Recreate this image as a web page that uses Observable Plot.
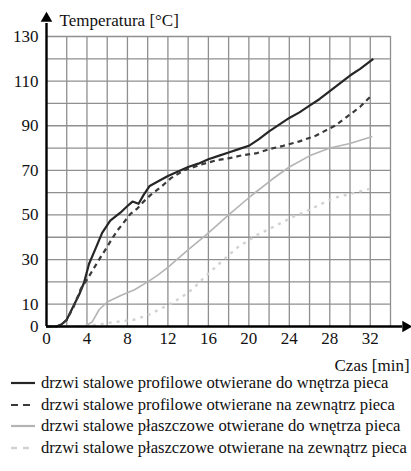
<!DOCTYPE html>
<html><head><meta charset="utf-8">
<script src="https://cdn.jsdelivr.net/npm/d3@7"></script>
<script src="https://cdn.jsdelivr.net/npm/@observablehq/plot@0.6"></script>
<style>
html,body{margin:0;padding:0;background:#fff;}
body{width:411px;height:471px;overflow:hidden;position:relative;font-family:"Liberation Serif","Tinos","Times New Roman","Times","DejaVu Serif",serif;}
#chart{position:absolute;left:0;top:0;}
#legend{position:absolute;left:0;top:372px;width:411px;overflow:hidden;}
.row{height:21.7px;display:flex;align-items:center;white-space:nowrap;font-size:16.6px;color:#111;}
.row svg{flex:none;margin-left:11px;margin-right:6px;}
</style></head><body><div id="chart"></div><div id="legend"></div>
<script>
// ---- data ----
const xTicks = [0, 4, 8, 12, 16, 20, 24, 28, 32];
const yTicks = [0, 10, 30, 50, 70, 90, 110, 130];
const xGrid = [2, 4, 6, 8, 10, 12, 14, 16, 18, 20, 22, 24, 26, 28, 30, 32, 34];
const yGrid = [10, 20, 30, 40, 50, 60, 70, 80, 90, 100, 110, 120, 130];
const xLabel = "Czas [min]";
const yLabel = "Temperatura [°C]";
const seriesNames = [
  "drzwi stalowe profilowe otwierane do wnętrza pieca",
  "drzwi stalowe profilowe otwierane na zewnątrz pieca",
  "drzwi stalowe płaszczowe otwierane do wnętrza pieca",
  "drzwi stalowe płaszczowe otwierane na zewnątrz pieca"
];
const t1 = [0, 1, 1.5, 2, 2.7, 3.2, 3.7, 4.2, 4.9, 5.5, 6.3, 7.3, 8.0, 8.5, 9.1, 9.6, 10.2, 11, 12, 13, 14, 15, 16, 17, 18, 19, 20, 21, 22, 23, 24, 25, 26, 27, 28, 29, 30, 31, 32.3];
const T1 = [0, 0, 1, 3, 9.5, 14, 19.5, 28, 35.5, 42, 47.5, 51, 54, 56, 55, 59, 63, 65, 67.5, 69.5, 71.5, 73, 75, 76.5, 78, 79.5, 81, 84, 87.5, 90.5, 93.5, 96, 99, 102, 105.5, 109, 112.5, 115.5, 120];
const t2 = [0, 1, 1.5, 2, 2.7, 3.4, 4.0, 4.6, 5.2, 5.9, 6.5, 7.0, 7.7, 8.3, 9.0, 9.6, 10.3, 11.3, 12.3, 13.6, 15.2, 16.8, 18.1, 19.4, 20.8, 22, 23.4, 25, 26.6, 28.5, 30, 31, 32];
const T2 = [0, 0, 1, 3, 9, 17, 21, 25.5, 30, 35, 39.5, 43, 47, 50.5, 53, 56, 59, 62.5, 66.5, 70, 72.5, 74.5, 75.5, 76.8, 77.7, 79.5, 81, 83, 85.5, 90, 95, 98.5, 103];
const t3 = [0, 3.8, 4.5, 5.2, 6.0, 7.4, 8.7, 10.0, 11.0, 12.0, 13.9, 15.9, 18.0, 20.2, 22.3, 24, 26, 28, 30, 32.2];
const T3 = [0, 0, 2, 7.5, 11, 14, 16.5, 20, 23, 26.5, 34, 41.5, 50, 58.5, 66, 71.5, 76.5, 80, 82, 85.2];
const t4 = [3, 4.5, 6.4, 8.6, 10.0, 11.6, 12.6, 13.6, 14.5, 15.3, 16.9, 18.9, 20.8, 22.8, 24.3, 26.3, 28.3, 30.5, 32.2];
const T4 = [0, 0.5, 1.8, 3, 5, 8.7, 11, 14, 17, 20.7, 27.5, 35.5, 41, 45.5, 49, 53, 57.5, 60, 62];

// ---- build ----
const xMax = 34, yMax = 130;
const FONT = "'Liberation Serif', 'Tinos', 'Times New Roman', 'Times', 'DejaVu Serif', serif";
const series = [[t1, T1], [t2, T2], [t3, T3], [t4, T4]].map(([ts, Ts], i) =>
  ts.map((t, j) => ({s: seriesNames[i], t, T: Ts[j]})));
const styles = [
  {stroke: "#262626", strokeWidth: 2.2},
  {stroke: "#3a3a3a", strokeWidth: 2.2, strokeDasharray: "5,4"},
  {stroke: "#b4b4b4", strokeWidth: 1.6},
  {stroke: "#d2d2d2", strokeWidth: 2.4, strokeDasharray: "3,5"}
];

const chart = Plot.plot({
  width: 411, height: 375,
  marginLeft: 46, marginRight: 21, marginTop: 36, marginBottom: 49,
  x: {domain: [0, xMax]},
  y: {domain: [0, yMax]},
  style: {fontFamily: FONT, fontSize: "17px", color: "#111", background: "#fff", overflow: "hidden"},
  marks: [
    Plot.ruleX(xGrid, {y1: 0, y2: yMax, stroke: "#8f8f8f", strokeWidth: 1.3, strokeOpacity: 1}),
    Plot.ruleY(yGrid, {x1: 0, x2: xMax, stroke: "#8f8f8f", strokeWidth: 1.3, strokeOpacity: 1}),
    ...series.map((d, i) => Plot.line(d, {x: "t", y: "T", curve: "linear", strokeLinecap: "butt", ...styles[i]})),
    Plot.ruleX([0], {y1: 0, y2: yMax * 1.045, stroke: "#000", strokeWidth: 2.4}),
    Plot.ruleY([0], {x1: 0, x2: xMax * 1.035, stroke: "#000", strokeWidth: 2.4}),
    Plot.dot([0], {x: d => d, y: yMax * 1.062, symbol: "triangle", r: 4.3, fill: "#000", stroke: null}),
    Plot.dot([0], {x: xMax * 1.044, y: d => d, symbol: "triangle", r: 4.3, fill: "#000", stroke: null, rotate: 90}),
    Plot.axisX({ticks: xTicks, tickSize: 0, tickPadding: 5, label: null, fontSize: 17, fontFamily: FONT}),
    Plot.axisY({ticks: yTicks, tickSize: 0, tickPadding: 8, label: null, fontSize: 17, fontFamily: FONT}),
    Plot.text([xLabel], {frameAnchor: "bottom-right", text: d => d, textAnchor: "start", lineAnchor: "middle", dx: -56, dy: 39, fontSize: 17, fontFamily: FONT}),
    Plot.text([yLabel], {frameAnchor: "top-left", text: d => d, textAnchor: "start", lineAnchor: "middle", dx: 13, dy: -16, fontSize: 17, fontFamily: FONT})
  ]
});
document.getElementById("chart").appendChild(chart);

// ---- legend ----
const legend = document.getElementById("legend");
seriesNames.forEach((name, i) => {
  const row = document.createElement("div");
  row.className = "row";
  const st = styles[i];
  row.innerHTML = `<svg width="24" height="10"><line x1="0" x2="24" y1="5" y2="5" stroke="${st.stroke}" stroke-width="${Math.max(st.strokeWidth, 2.2)}" ${st.strokeDasharray ? `stroke-dasharray="${i === 1 ? "7,5" : "6,6"}"` : ""}/></svg><span>${name}</span>`;
  legend.appendChild(row);
});
</script></body></html>
